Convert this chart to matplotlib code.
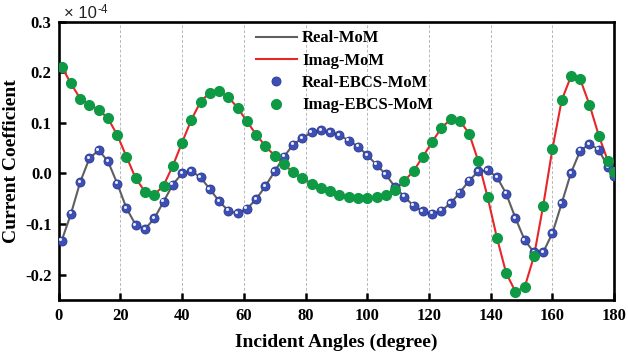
import matplotlib
matplotlib.use("Agg")
import matplotlib.pyplot as plt
from matplotlib.transforms import offset_copy
from matplotlib.ticker import FormatStrFormatter

plt.rcParams["font.family"] = ["Liberation Serif", "DejaVu Serif"]
plt.rcParams["font.weight"] = "bold"
plt.rcParams["axes.unicode_minus"] = False

# sample angles (degree)
angles = list(range(1, 179, 3)) + [180]

# current coefficient, in units of 1e-4
real_vals = [
    -0.133, -0.080, -0.017, 0.030, 0.046, 0.024, -0.020, -0.069, -0.102, -0.110,
    -0.089, -0.056, -0.022, 0.000, 0.005, -0.008, -0.031, -0.055, -0.074, -0.079,
    -0.070, -0.051, -0.025, 0.004, 0.033, 0.057, 0.070, 0.081, 0.085, 0.082,
    0.076, 0.065, 0.053, 0.036, 0.017, -0.002, -0.027, -0.046, -0.064, -0.075,
    -0.080, -0.074, -0.059, -0.038, -0.014, 0.004, 0.006, -0.007, -0.040, -0.088,
    -0.132, -0.156, -0.156, -0.118, -0.059, 0.001, 0.045, 0.058, 0.047, 0.012,
    -0.005,
]
imag_vals = [
    0.211, 0.178, 0.148, 0.136, 0.126, 0.109, 0.076, 0.033, -0.010, -0.036,
    -0.042, -0.024, 0.015, 0.061, 0.106, 0.142, 0.160, 0.163, 0.151, 0.130,
    0.103, 0.077, 0.054, 0.035, 0.018, 0.002, -0.010, -0.020, -0.028, -0.035,
    -0.042, -0.046, -0.048, -0.049, -0.047, -0.042, -0.032, -0.015, 0.005, 0.033,
    0.062, 0.090, 0.107, 0.104, 0.079, 0.024, -0.047, -0.127, -0.197, -0.234,
    -0.225, -0.164, -0.064, 0.049, 0.145, 0.192, 0.186, 0.136, 0.075, 0.024,
    0.003,
]

x_ticks = list(range(0, 181, 20))
y_ticks = [-0.2, -0.1, 0.0, 0.1, 0.2, 0.3]
grid_x = list(range(20, 180, 20))

fig = plt.figure(figsize=(6.28, 3.55), dpi=100)
ax = fig.add_axes([0.0933, 0.1555, 0.8847, 0.7831])

for gx in grid_x:
    ax.axvline(gx, color="#b8b8b8", linestyle=(0, (3, 2)), linewidth=0.7, zorder=0)

ax.plot(angles, real_vals, color="#5f5f5f", linewidth=1.5, label="Real-MoM", zorder=2)
ax.plot(angles, imag_vals, color="#e8262a", linewidth=1.5, label="Imag-MoM", zorder=2)

ax.plot(angles, real_vals, linestyle="none", marker="o", markersize=6.5,
        markerfacecolor="#3d4fb5", markeredgecolor="#2a3890", markeredgewidth=0.6,
        label="Real-EBCS-MoM", zorder=3)
# small white shine so the blue dots look like spheres
shine = offset_copy(ax.transData, fig=fig, x=-1.0, y=1.0, units="points")
ax.plot(angles, real_vals, linestyle="none", marker="o", markersize=2.2,
        markerfacecolor="#e8ecff", markeredgewidth=0, transform=shine, zorder=3.5)

ax.plot(angles, imag_vals, linestyle="none", marker="o", markersize=7,
        markerfacecolor="#0e9a45", markeredgecolor="#0e9a45", label="Imag-EBCS-MoM", zorder=4)

ax.set_xlim(0, 180)
ax.set_ylim(-0.25, 0.3)
ax.set_xticks(x_ticks)
ax.set_yticks(y_ticks)
ax.yaxis.set_major_formatter(FormatStrFormatter("%.1f"))
ax.tick_params(direction="in", length=5, width=1.8, labelsize=12)
ax.tick_params(axis="x", pad=6)
ax.tick_params(axis="y", pad=5)
for lbl in ax.get_xticklabels() + ax.get_yticklabels():
    lbl.set_fontweight("bold")
for sp in ax.spines.values():
    sp.set_linewidth(1.9)

ax.set_xlabel("Incident Angles (degree)", fontsize=14, fontweight="bold", labelpad=7)
ax.set_ylabel("Current Coefficient", fontsize=14, fontweight="bold", labelpad=4)

fig.text(0.102, 0.949, "× 10", fontsize=12, family="Liberation Sans",
         fontweight="normal", color="#222222", va="baseline", ha="left")
fig.text(0.156, 0.963, "-4", fontsize=8.5, family="Liberation Sans",
         fontweight="normal", color="#222222", va="baseline", ha="left")

ax.legend(loc="upper left", bbox_to_anchor=(0.3365, 1.005), frameon=False, fontsize=12,
          handlelength=2.5, handletextpad=0.3, labelspacing=0.38, borderaxespad=0.2)

fig.savefig("out.png", dpi=100, facecolor="white")
